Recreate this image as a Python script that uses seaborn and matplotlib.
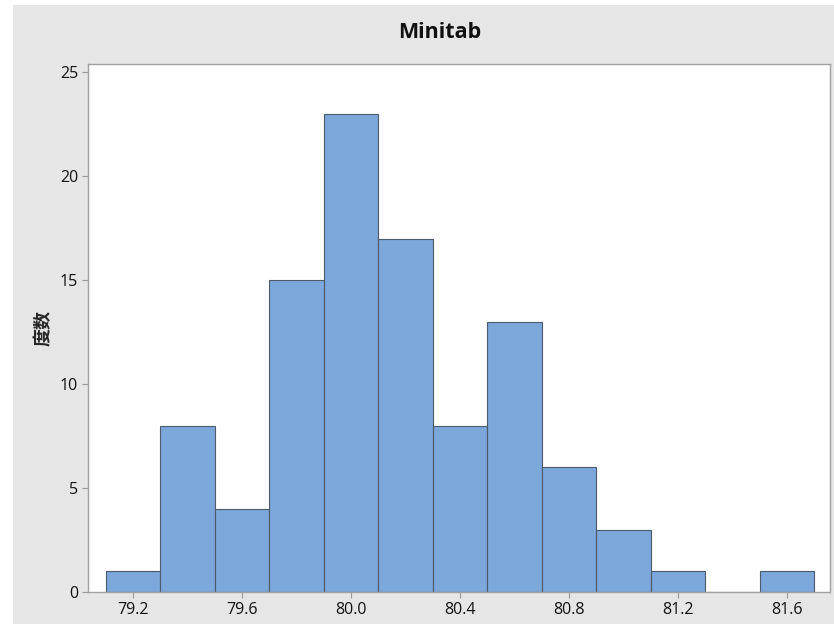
import matplotlib
matplotlib.use("Agg")
import matplotlib.pyplot as plt
import seaborn as sns
import numpy as np
from matplotlib.patches import Rectangle

# bin centres and counts
bin_centers = [79.2, 79.4, 79.6, 79.8, 80.0, 80.2, 80.4, 80.6, 80.8, 81.0, 81.2, 81.4, 81.6]
counts = [1, 8, 4, 15, 23, 17, 8, 13, 6, 3, 1, 0, 1]
x_ticks = [79.2, 79.6, 80.0, 80.4, 80.8, 81.2, 81.6]
y_ticks = [0, 5, 10, 15, 20, 25]

sns.set_style("white")
plt.rcParams['font.family'] = ['Open Sans', 'Noto Sans CJK SC', 'DejaVu Sans']

fig = plt.figure(figsize=(8.34, 6.24), dpi=100, facecolor='white')
# grey panel behind everything, leaving a thin white margin at left/top
fig.patches.append(Rectangle((13/834, 0), 1 - 13/834, 1 - 5/624,
                             transform=fig.transFigure, facecolor='#e6e6e6',
                             edgecolor='none', zorder=-10))

ax = fig.add_axes([88/834, 32/624, 742/834, 528/624])
ax.set_facecolor('white')

sns.histplot(x=bin_centers, weights=counts, binwidth=0.2, binrange=(79.1, 81.7),
             color='#7ba7da', edgecolor='#4d5a6a', linewidth=0.8, alpha=1, ax=ax)

ax.set_xlim(79.035, 81.758)
ax.set_ylim(0, 25.4)
ax.set_xticks(x_ticks)
ax.set_xticklabels([f"{v:.1f}" for v in x_ticks])
ax.set_yticks(y_ticks)
ax.tick_params(axis='both', direction='out', length=4, width=0.8, color='#999999',
               labelsize=11.5, labelcolor='#111111', bottom=True, left=True, pad=3)

for s in ['left', 'bottom', 'top', 'right']:
    ax.spines[s].set_visible(True)
    ax.spines[s].set_color('#a0a0a0')
    ax.spines[s].set_linewidth(1.0)

ax.set_xlabel('')
ax.set_ylabel('度数', fontsize=13, fontweight='bold', family=['Noto Sans CJK SC'], labelpad=5)
fig.text(440/834, 1 - 33/624, 'Minitab', ha='center', va='center',
         fontsize=15.5, fontweight='bold', color='#111111')

fig.savefig('out.png', dpi=100, facecolor=fig.get_facecolor())
